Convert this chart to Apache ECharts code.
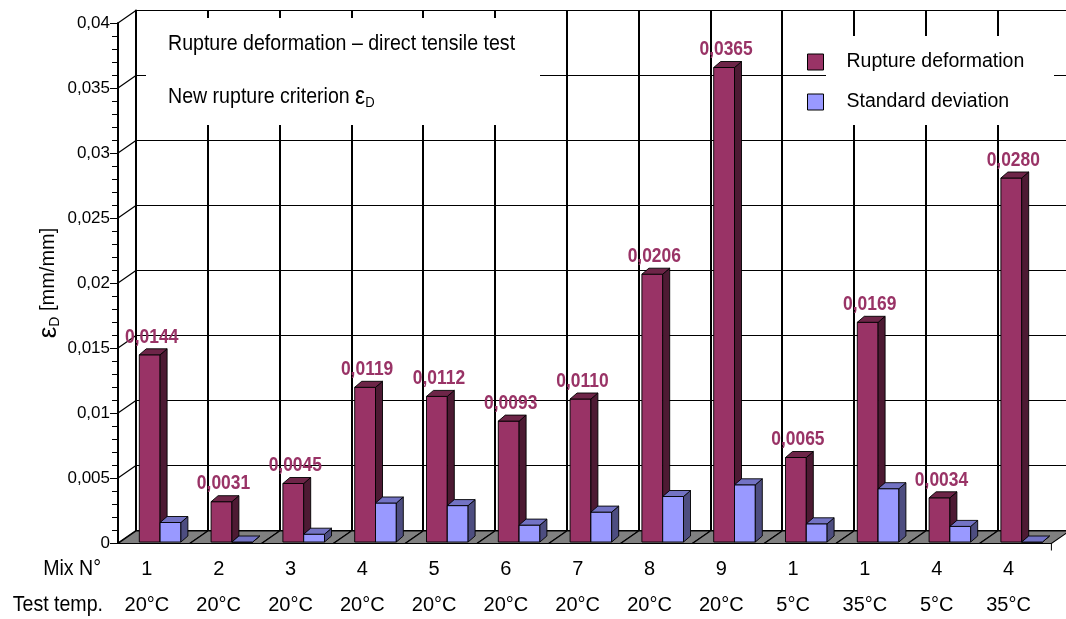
<!DOCTYPE html>
<html>
<head>
<meta charset="utf-8">
<script src="https://cdn.jsdelivr.net/npm/echarts@6/dist/echarts.min.js"></script>
<style>
  html, body { margin: 0; padding: 0; background: #ffffff; }
  #chart { width: 1066px; height: 619px; }
</style>
</head>
<body>
<div id="chart"></div>
<script>
// Mix number and test temperature of each specimen group
const mixNumbers = ['1', '2', '3', '4', '5', '6', '7', '8', '9', '1', '1', '4', '4'];
const testTemps = ['20°C', '20°C', '20°C', '20°C', '20°C', '20°C', '20°C', '20°C', '20°C', '5°C', '35°C', '5°C', '35°C'];

// Rupture deformation εD [mm/mm] and its standard deviation
const ruptureDeformation = [0.0144, 0.0031, 0.0045, 0.0119, 0.0112, 0.0093, 0.0110, 0.0206, 0.0365, 0.0065, 0.0169, 0.0034, 0.0280];
const standardDeviation = [0.0015, 0.0000, 0.0006, 0.0030, 0.0028, 0.0013, 0.0023, 0.0035, 0.0044, 0.0014, 0.0041, 0.0012, 0.0000];

// Value axis ticks
const yTicks = [0, 0.005, 0.01, 0.015, 0.02, 0.025, 0.03, 0.035, 0.04];

const FONT = "'Liberation Sans', Arial, sans-serif";
const NARROW = 0.87; // horizontal squeeze for the condensed-looking texts

// depth of the chart box (front plane -> back wall) and of each bar
const WALL_DX = 18, WALL_DY = -12.5;
const BAR_DX = 7, BAR_DY = -6, BAR_W = 20.8;

const comma = v => String(v).replace('.', ',');

function boxRenderer(shiftX, colors, withLabel) {
  return function (params, api) {
    const i = api.value(0);
    const v = api.value(1);
    const base = api.coord([i, 0]);
    const top = api.coord([i, v]);
    const x0 = base[0] + shiftX, x1 = x0 + BAR_W;
    const yb = base[1] - 1, yt = top[1] - 1;
    const stroke = { stroke: '#000', lineWidth: 0.9 };
    const children = [
      { type: 'polygon', shape: { points: [[x0, yt], [x1, yt], [x1, yb], [x0, yb]] },
        style: Object.assign({ fill: colors.front }, stroke) },
      { type: 'polygon', shape: { points: [[x1, yt], [x1 + BAR_DX, yt + BAR_DY], [x1 + BAR_DX, yb + BAR_DY], [x1, yb]] },
        style: Object.assign({ fill: colors.side }, stroke) },
      { type: 'polygon', shape: { points: [[x0, yt], [x1, yt], [x1 + BAR_DX, yt + BAR_DY], [x0 + BAR_DX, yt + BAR_DY]] },
        style: Object.assign({ fill: colors.top }, stroke) }
    ];
    if (withLabel) {
      children.push({
        type: 'text',
        x: (x0 + x1) / 2 + 2,
        y: yt + BAR_DY - 12,
        scaleX: 0.83,
        style: {
          x: 0, y: 0,
          text: v.toFixed(4).replace('.', ','),
          fontFamily: FONT, fontWeight: 'bold', fontSize: 21,
          fill: '#993366', align: 'center', verticalAlign: 'middle'
        }
      });
    }
    return { type: 'group', children: children };
  };
}

const categoryIdx = testTemps.map((t, i) => i);

function squeezedText(x, y, text, align, extra) {
  return Object.assign({
    type: 'text', z: 2, x: x, y: y, scaleX: NARROW,
    style: { x: 0, y: 0, text: text, fontFamily: FONT, fontSize: 22.5, fill: '#000',
             align: align, verticalAlign: 'middle' }
  }, extra || {});
}

const option = {
  animation: false,
  backgroundColor: '#ffffff',
  grid: [
    { left: 118, top: 23, width: 13 * 71.8, height: 520, outerBoundsMode: 'none' },
    { left: 118 + WALL_DX, top: 23 + WALL_DY, width: 13 * 71.8, height: 520, outerBoundsMode: 'none' }
  ],
  xAxis: [
    {
      type: 'category', gridIndex: 0, data: categoryIdx,
      axisLine: { show: false }, axisTick: { show: false }, splitLine: { show: false },
      axisLabel: {
        interval: 0, margin: 8, padding: [0, 14, 0, 0],
        formatter: (val, i) => '{m|' + mixNumbers[i] + '}\n{t|' + testTemps[i] + '}',
        rich: {
          m: { fontFamily: FONT, fontSize: 20, color: '#000', lineHeight: 36 },
          t: { fontFamily: FONT, fontSize: 20, color: '#000', lineHeight: 36 }
        }
      }
    },
    {
      type: 'category', gridIndex: 1, data: categoryIdx,
      axisLine: { show: false }, axisTick: { show: false }, axisLabel: { show: false },
      splitLine: { show: true, interval: 0, lineStyle: { color: '#000', width: 2 } }
    }
  ],
  yAxis: [
    {
      type: 'value', gridIndex: 0, min: 0, max: 0.04, interval: 0.005,
      axisLine: { show: true, lineStyle: { color: '#000', width: 2 } },
      axisTick: { show: true, length: 8, lineStyle: { color: '#000' } },
      minorTick: { show: true, splitNumber: 5, length: 6, lineStyle: { color: '#000' } },
      splitLine: { show: false },
      axisLabel: { margin: 8, formatter: comma, fontFamily: FONT, fontSize: 17, color: '#000' },
      name: '{e|ε}{s|D}{n| [mm/mm]}',
      nameLocation: 'middle', nameRotate: 90, nameGap: 56, nameMoveOverlap: false,
      nameTextStyle: {
        fontFamily: FONT, fontSize: 20, color: '#000',
        rich: {
          e: { fontFamily: FONT, fontSize: 26, color: '#000' },
          s: { fontFamily: FONT, fontSize: 14, color: '#000', verticalAlign: 'top', padding: [13, 0, 0, 0] },
          n: { fontFamily: FONT, fontSize: 20, color: '#000' }
        }
      }
    },
    {
      type: 'value', gridIndex: 1, min: 0, max: 0.04, interval: 0.005,
      axisLine: { show: true, lineStyle: { color: '#000', width: 2 } },
      axisTick: { show: false }, axisLabel: { show: false },
      splitLine: { show: true, lineStyle: { color: '#000', width: 1.2 } }
    }
  ],
  legend: {
    data: ['Rupture deformation', 'Standard deviation'],
    orient: 'vertical', left: 807, top: 52, padding: 0,
    icon: 'rect', itemWidth: 16, itemHeight: 16, itemGap: 20,
    itemStyle: { borderColor: '#000', borderWidth: 1 },
    textStyle: { fontFamily: FONT, fontSize: 19.5, color: '#000', lineHeight: 16, padding: [0, 0, 0, 18] },
    selectedMode: false
  },
  graphic: [
    { type: 'rect', z: 1, shape: { x: 146, y: 18, width: 394, height: 107 }, style: { fill: '#fff' } },
    { type: 'rect', z: 1, shape: { x: 826, y: 36, width: 228, height: 89 }, style: { fill: '#fff' } },
    squeezedText(168, 44, 'Rupture deformation – direct tensile test', 'left'),
    {
      type: 'text', z: 2, x: 168, y: 97, scaleX: NARROW,
      style: {
        x: 0, y: 0,
        text: '{n|New rupture criterion }{e|ε}{s|D}',
        verticalAlign: 'middle',
        rich: {
          n: { fontFamily: FONT, fontSize: 22.5, fill: '#000' },
          e: { fontFamily: FONT, fontSize: 26, fill: '#000' },
          s: { fontFamily: FONT, fontSize: 15, fill: '#000', verticalAlign: 'top', padding: [12, 0, 0, 0] }
        }
      }
    },
    squeezedText(101, 569, 'Mix N°', 'right'),
    squeezedText(103, 605, 'Test temp.', 'right')
  ],
  series: [
    {
      // left side wall: depth lines at each major tick
      type: 'custom', name: 'sideWall', xAxisIndex: 0, yAxisIndex: 0, silent: true,
      data: yTicks.map(v => [0, v]),
      renderItem: (params, api) => {
        const p = api.coord([0, api.value(1)]);
        const x = p[0] - api.size([1, 0])[0] / 2;
        return { type: 'line', shape: { x1: x, y1: p[1], x2: x + WALL_DX, y2: p[1] + WALL_DY },
                 style: { stroke: '#000', lineWidth: 1.2 } };
      }
    },
    {
      // grey floor, one segment per category
      type: 'custom', name: 'floor', xAxisIndex: 0, yAxisIndex: 0, silent: true,
      data: categoryIdx.map(i => [i, 0]),
      renderItem: (params, api) => {
        const p = api.coord([api.value(0), 0]);
        const w = api.size([1, 0])[0];
        const l = p[0] - w / 2, r = p[0] + w / 2, y = p[1] + 0.5;
        const children = [{
          type: 'polygon',
          shape: { points: [[l, y], [r, y], [r + WALL_DX, y + WALL_DY], [l + WALL_DX, y + WALL_DY]] },
          style: { fill: '#808080', stroke: '#000', lineWidth: 1.2 }
        }];
        if (params.dataIndex === params.dataInsideLength - 1) {
          children.push({ type: 'line', shape: { x1: r, y1: y, x2: r, y2: y + 7 }, style: { stroke: '#000', lineWidth: 1 } });
        }
        return { type: 'group', children: children };
      }
    },
    {
      type: 'custom', name: 'Rupture deformation', xAxisIndex: 0, yAxisIndex: 0,
      itemStyle: { color: '#993366', borderColor: '#000', borderWidth: 1 },
      data: ruptureDeformation.map((v, i) => [i, v]),
      renderItem: boxRenderer(-14.6, { front: '#993366', side: '#4d1a33', top: '#6e2548' }, true)
    },
    {
      type: 'custom', name: 'Standard deviation', xAxisIndex: 0, yAxisIndex: 0,
      itemStyle: { color: '#9999ff', borderColor: '#000', borderWidth: 1 },
      data: standardDeviation.map((v, i) => [i, v]),
      renderItem: boxRenderer(6.2, { front: '#9999ff', side: '#4d4d80', top: '#7373c4' }, false)
    }
  ]
};

const chart = echarts.init(document.getElementById('chart'), null, { renderer: 'canvas' });
chart.setOption(option);
</script>
</body>
</html>
